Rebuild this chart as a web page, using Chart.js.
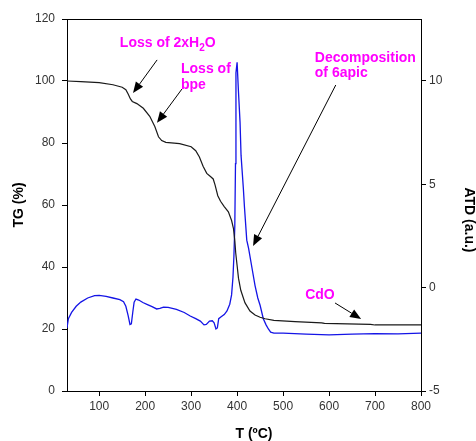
<!DOCTYPE html>
<html>
<head>
<meta charset="utf-8">
<script src="https://cdn.jsdelivr.net/npm/chart.js@4.4.0/dist/chart.umd.min.js"></script>
<style>
html, body { margin:0; padding:0; background:#fff; }
canvas { display:block; }
</style>
</head>
<body>
<canvas id="chart" width="476" height="441"></canvas>
<script>
// Data
const tgTemp = [30,60,100,130,150,158,163,168,172,182,196,210,221,229,236,245,275,300,310,318,326,334,342,348,352,358,364,372,381,388,392,395,397,400,403,408,417,428,439,450,461,480,526,584,590,690,700,800];
const tgValue = [100,99.8,99.5,98.8,98.0,97.2,95.8,94.2,93.4,92.7,91.2,88.6,85.3,82.0,80.8,80.2,79.8,78.8,77.5,75.5,72.5,70.2,69.2,68.4,66.5,63.0,61.2,59.5,57.8,55.0,52.5,48.5,44.5,40.5,36.4,32.5,28.5,25.8,24.5,23.8,23.3,22.8,22.4,22.0,21.8,21.5,21.3,21.3];

const atdTemp = [30,33,40,50,60,75,90,100,115,130,145,153,158,163,167,170,173,176,180,186,195,205,215,225,232,240,250,268,285,298,310,320,328,333,340,346,350,354,357,360,366,372,378,384,388,391,393,395,396.5,397.5,400,402.7,406.4,408.6,413.6,416,421,425,432,439,445,450,457,463,468,473,480,500,550,600,650,700,750,800];
const atdValue = [-1.95,-1.5,-1.2,-0.9,-0.7,-0.5,-0.38,-0.37,-0.42,-0.5,-0.58,-0.68,-0.9,-1.35,-1.78,-1.75,-1.2,-0.7,-0.55,-0.6,-0.72,-0.82,-0.92,-1.03,-1.0,-0.94,-0.95,-1.05,-1.2,-1.37,-1.5,-1.62,-1.8,-1.78,-1.62,-1.6,-1.7,-2.0,-1.95,-1.5,-1.4,-1.3,-1.13,-0.8,-0.35,0.5,1.5,3.0,6.0,10.4,10.9,9.6,8.0,6.4,4.8,3.9,2.3,1.9,1.0,0.1,-0.5,-0.85,-1.5,-1.8,-2.0,-2.15,-2.2,-2.2,-2.25,-2.28,-2.25,-2.22,-2.24,-2.2];

const xTicks = [100,200,300,400,500,600,700,800];
const tgTicks = [0,20,40,60,80,100,120];
const atdTicks = [-5,0,5,10];

// Annotations, anchored in data units (T, TG)
const labels = [
    { text: 'Loss of 2xH', sub: '2', tail: 'O', t: 145, v: 111 },
    { text: 'Loss of', t: 278, v: 102.6 },
    { text: 'bpe', t: 278, v: 97.4 },
    { text: 'Decomposition', t: 569, v: 106.1 },
    { text: 'of 6apic', t: 569, v: 101.3 },
    { text: 'CdO', t: 548, v: 29.7 }
];
const arrows = [
    { from: [226, 106.8], to: [173.6, 96.1] },
    { from: [280, 97.4], to: [225.8, 86.5] },
    { from: [614.6, 98.7], to: [434.7, 46.8] },
    { from: [613, 28.4], to: [669.7, 23.2] }
];

const FONT = "'Liberation Sans', Arial, sans-serif";

// top frame line + the x and right axis titles
const frame = {
    id: 'frame',
    afterDraw(chart) {
        const { ctx, chartArea: a } = chart;
        ctx.save();
        ctx.strokeStyle = '#000';
        ctx.lineWidth = 1;
        ctx.beginPath();
        ctx.moveTo(a.left, a.top + 0.5);
        ctx.lineTo(a.right, a.top + 0.5);
        ctx.stroke();

        ctx.fillStyle = '#000';
        ctx.font = 'bold 14px ' + FONT;
        ctx.textAlign = 'center';
        ctx.textBaseline = 'middle';
        ctx.fillText('T (ºC)', (a.left + a.right) / 2 + 10, a.bottom + 43);

        ctx.translate(a.right + 48, (a.top + a.bottom) / 2 + 15);
        ctx.rotate(Math.PI / 2);
        ctx.fillText('ATD (a.u.)', 0, 0);
        ctx.restore();
    }
};

const notes = {
    id: 'notes',
    afterDatasetsDraw(chart) {
        const { ctx, scales: { x, y } } = chart;
        ctx.save();
        ctx.fillStyle = '#ff00ff';
        ctx.textBaseline = 'alphabetic';
        ctx.textAlign = 'left';
        labels.forEach(l => {
            let px = x.getPixelForValue(l.t), py = y.getPixelForValue(l.v);
            ctx.font = 'bold 14px ' + FONT;
            ctx.fillText(l.text, px, py);
            if (l.sub) {
                px += ctx.measureText(l.text).width;
                ctx.font = 'bold 10px ' + FONT;
                ctx.fillText(l.sub, px, py + 4);
                px += ctx.measureText(l.sub).width;
                ctx.font = 'bold 14px ' + FONT;
                ctx.fillText(l.tail, px, py);
            }
        });
        ctx.strokeStyle = '#000';
        ctx.fillStyle = '#000';
        ctx.lineWidth = 1;
        arrows.forEach(a => {
            const x1 = x.getPixelForValue(a.from[0]), y1 = y.getPixelForValue(a.from[1]);
            const x2 = x.getPixelForValue(a.to[0]), y2 = y.getPixelForValue(a.to[1]);
            const ang = Math.atan2(y2 - y1, x2 - x1);
            const len = 11, half = 4.5;
            const bx = x2 - len * Math.cos(ang), by = y2 - len * Math.sin(ang);
            ctx.beginPath();
            ctx.moveTo(x1, y1);
            ctx.lineTo(bx, by);
            ctx.stroke();
            ctx.beginPath();
            ctx.moveTo(x2, y2);
            ctx.lineTo(bx + half * Math.sin(ang), by - half * Math.cos(ang));
            ctx.lineTo(bx - half * Math.sin(ang), by + half * Math.cos(ang));
            ctx.closePath();
            ctx.fill();
        });
        ctx.restore();
    }
};

const tickFont = { family: FONT, size: 12 };
const titleFont = { family: FONT, size: 14, weight: 'bold' };

new Chart(document.getElementById('chart'), {
    type: 'line',
    data: {
        datasets: [
            { label: 'TG', data: tgTemp.map((t, i) => ({ x: t, y: tgValue[i] })), yAxisID: 'y',
              borderColor: '#1a1a1a', borderWidth: 1.2, pointRadius: 0, tension: 0 },
            { label: 'ATD', data: atdTemp.map((t, i) => ({ x: t, y: atdValue[i] })), yAxisID: 'y1',
              borderColor: '#1414e6', borderWidth: 1.3, pointRadius: 0, tension: 0 }
        ]
    },
    options: {
        responsive: false,
        devicePixelRatio: 1,
        animation: false,
        layout: { padding: { top: 19, left: 0, right: 0, bottom: 0 } },
        plugins: { legend: { display: false }, tooltip: { enabled: false } },
        scales: {
            x: {
                type: 'linear', min: 30, max: 800,
                afterBuildTicks: s => { s.ticks = xTicks.map(v => ({ value: v })); },
                afterFit: s => { s.height = 50; },
                grid: { drawOnChartArea: false, drawTicks: true, tickLength: 5, color: '#000' },
                border: { display: true, color: '#000', width: 1 },
                ticks: { color: '#333', font: tickFont, padding: 3, maxRotation: 0 },
                title: { display: false }
            },
            y: {
                position: 'left', min: 0, max: 120,
                afterBuildTicks: s => { s.ticks = tgTicks.map(v => ({ value: v })); },
                afterFit: s => { s.width = 67; },
                grid: { drawOnChartArea: false, drawTicks: true, tickLength: 5, color: '#000' },
                border: { display: true, color: '#000', width: 1 },
                ticks: { color: '#333', font: tickFont, padding: 7 },
                title: { display: true, text: 'TG (%)', color: '#000', font: titleFont, padding: { top: 11, bottom: 0 } }
            },
            y1: {
                position: 'right', min: -5, max: 13,
                afterBuildTicks: s => { s.ticks = atdTicks.map(v => ({ value: v })); },
                afterFit: s => { s.width = 55; },
                grid: { drawOnChartArea: false, drawTicks: true, tickLength: 5, color: '#000' },
                border: { display: true, color: '#000', width: 1 },
                ticks: { color: '#333', font: tickFont, padding: 3 },
                title: { display: false }
            }
        }
    },
    plugins: [frame, notes]
});
</script>
</body>
</html>
